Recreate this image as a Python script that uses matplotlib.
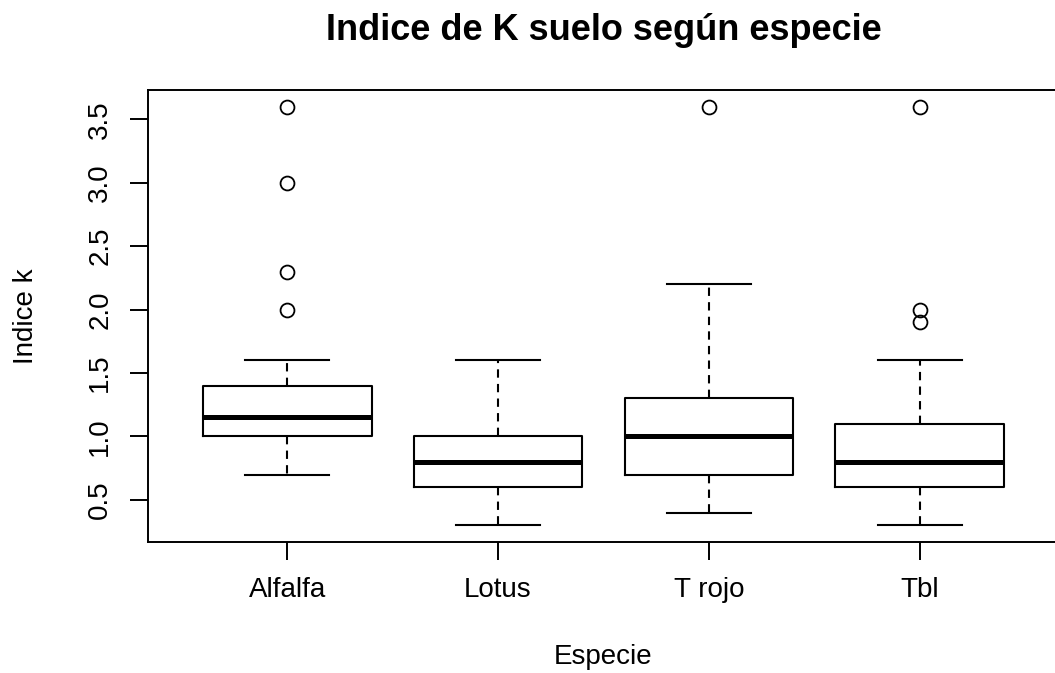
import matplotlib
matplotlib.use("Agg")
import matplotlib.pyplot as plt

plt.rcParams['font.family'] = ['Liberation Sans', 'DejaVu Sans']

# Five-number summaries and outliers of soil K index per species
species = ["Alfalfa", "Lotus", "T rojo", "Tbl"]
whisker_low = [0.7, 0.3, 0.4, 0.3]
q1 = [1.0, 0.6, 0.7, 0.6]
median = [1.15, 0.8, 1.0, 0.8]
q3 = [1.4, 1.0, 1.3, 1.1]
whisker_high = [1.6, 1.6, 2.2, 1.6]
outliers = [[2.0, 2.3, 3.0, 3.6], [], [3.6], [1.9, 2.0, 3.6]]
yticks = [0.5, 1.0, 1.5, 2.0, 2.5, 3.0, 3.5]

stats = [
    dict(label=s, whislo=lo, q1=a, med=m, q3=b, whishi=hi, fliers=f)
    for s, lo, a, m, b, hi, f in zip(species, whisker_low, q1, median, q3,
                                     whisker_high, outliers)
]

fig = plt.figure(figsize=(10.55, 6.73), dpi=100)
ax = fig.add_axes([148 / 1055, 1 - 542 / 673, (1059 - 148) / 1055, (542 - 90) / 673])

ax.bxp(
    stats,
    positions=range(1, len(species) + 1),
    widths=0.8,
    showfliers=True,
    boxprops=dict(color="black", linewidth=1.5),
    medianprops=dict(color="black", linewidth=3.6, solid_capstyle="butt"),
    whiskerprops=dict(color="black", linewidth=1.5, linestyle=(0, (4, 3))),
    capprops=dict(color="black", linewidth=1.5),
    capwidths=0.4,
    flierprops=dict(marker="o", markerfacecolor="none", markeredgecolor="black",
                    markersize=10, markeredgewidth=1.3),
)

ax.set_xlim(0.34, 4.66)
ax.set_ylim(0.168, 3.732)
ax.set_yticks(yticks)
ax.set_yticklabels([f"{v:.1f}" for v in yticks], rotation=90, va="center")
ax.set_xticks(range(1, len(species) + 1))
ax.set_xticklabels(species)

for sp in ax.spines.values():
    sp.set_linewidth(1.4)
ax.tick_params(axis="both", length=13, width=1.4, labelsize=20, color="black")
ax.tick_params(axis="x", pad=12)
ax.tick_params(axis="y", pad=12)

ax.set_xlabel("Especie", fontsize=20)
ax.xaxis.label.set_va("center")
ax.xaxis.set_label_coords(0.5, (542 - 657) / 452)
ax.set_ylabel("Indice k", fontsize=20)
ax.yaxis.label.set_va("center")
ax.yaxis.set_label_coords((26 - 148) / 911, 0.5)

fig.text((148 + 1059) / 2 / 1055, 1 - 30 / 673, "Indice de K suelo según especie",
         ha="center", va="center", fontsize=26, fontweight="bold")

fig.savefig("out.png", dpi=100)
